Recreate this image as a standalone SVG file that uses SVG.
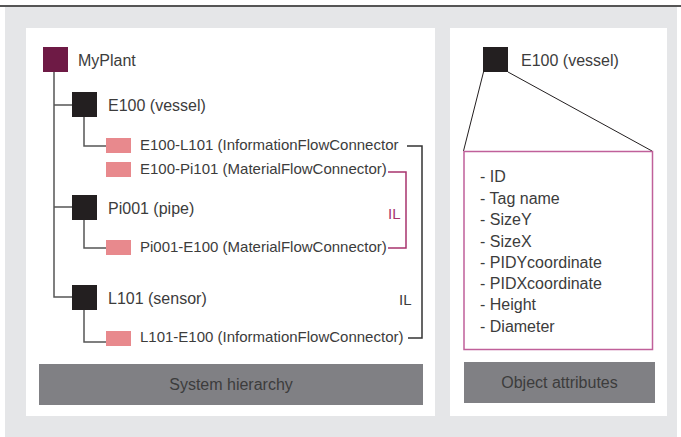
<svg xmlns="http://www.w3.org/2000/svg" width="681" height="437" viewBox="0 0 681 437">
<style>
text{font-family:"Liberation Sans",Arial,sans-serif;fill:#3c3c3c}
.n{font-size:16px}
.c{font-size:15px}
.blk{fill:#231f20}
.pk{fill:#e8898d}
.tl{stroke:#555;stroke-width:1.5;fill:none}
.il{stroke:#333;stroke-width:1.5;fill:none}
.ilm{stroke:#a8336e;stroke-width:1.5;fill:none}
.btn{fill:#808084}
</style>
<rect x="0" y="0" width="681" height="437" fill="#fff"/>
<rect x="5" y="7" width="672" height="430" fill="#e5e6e8"/>
<line x1="0" y1="6" x2="681" y2="6" stroke="#555" stroke-width="2"/>
<rect x="26" y="28" width="409" height="388" fill="#fff"/>
<rect x="450" y="28" width="217" height="388" fill="#fff"/>
<g id="connectors">
<path class="tl" d="M54 72V297H72M54 105H72M54 207H72"/>
<path class="tl" d="M84 117V146H106M84 220V248H106M84 310V342H106"/>
<path class="il" d="M407 146H422V338H408"/>
<path class="ilm" d="M388 172H406V248H388"/>
<path d="M483.5 72L463.5 151M508 72L652 151" stroke="#231f20" stroke-width="1" fill="none"/>
</g>
<g id="myplant"><rect x="43" y="47" width="25" height="25" fill="#6e1a45"/><text class="n" x="78" y="66">MyPlant</text></g>
<g id="e100"><rect class="blk" x="72" y="92" width="25" height="25"/><text class="n" x="108" y="111">E100 (vessel)</text></g>
<g id="e100-l101"><rect class="pk" x="106" y="138" width="25" height="15"/><text class="c" x="140" y="150">E100-L101 (InformationFlowConnector</text></g>
<g id="e100-pi101"><rect class="pk" x="106" y="162" width="25" height="15"/><text class="c" x="140" y="174">E100-Pi101 (MaterialFlowConnector)</text></g>
<g id="pi001"><rect class="blk" x="72" y="195" width="25" height="25"/><text class="n" x="108" y="214">Pi001 (pipe)</text></g>
<g id="pi001-e100"><rect class="pk" x="106" y="240" width="25" height="15"/><text class="c" x="140" y="252">Pi001-E100 (MaterialFlowConnector)</text></g>
<g id="l101"><rect class="blk" x="72" y="285" width="25" height="25"/><text class="n" x="108" y="304">L101 (sensor)</text></g>
<g id="l101-e100"><rect class="pk" x="106" y="331" width="25" height="15"/><text class="c" x="140" y="342">L101-E100 (InformationFlowConnector)</text></g>
<g id="il-labels"><text class="c" x="388" y="219" style="fill:#a8336e">IL</text><text class="c" x="399" y="305">IL</text></g>
<g id="sys-btn"><rect class="btn" x="39" y="364" width="384" height="41"/><text class="n" x="231" y="390" text-anchor="middle">System hierarchy</text></g>
<g id="vessel"><rect class="blk" x="483" y="47" width="25" height="25"/><text class="n" x="521" y="66">E100 (vessel)</text></g>
<g id="attributes"><rect x="464" y="151.5" width="188.5" height="198" fill="#fff" stroke="#c0609a" stroke-width="1.5"/>
<text class="n" x="480" y="182">- ID</text>
<text class="n" x="480" y="204">- Tag name</text>
<text class="n" x="480" y="225">- SizeY</text>
<text class="n" x="480" y="246.5">- SizeX</text>
<text class="n" x="480" y="268">- PIDYcoordinate</text>
<text class="n" x="480" y="289">- PIDXcoordinate</text>
<text class="n" x="480" y="310">- Height</text>
<text class="n" x="480" y="331.5">- Diameter</text></g>
<g id="obj-btn"><rect class="btn" x="464" y="362" width="191" height="41"/><text class="n" x="559.5" y="388" text-anchor="middle">Object attributes</text></g>
</svg>
